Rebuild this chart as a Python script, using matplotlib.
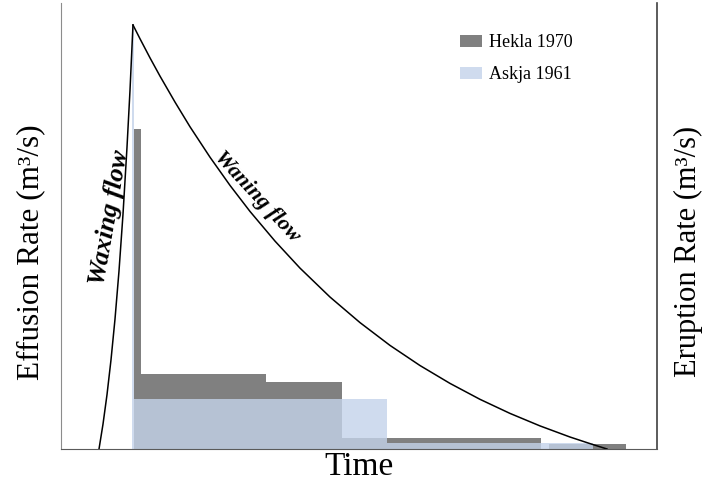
import matplotlib.pyplot as plt

# eruption rate steps (arbitrary units)
hekla_start = [12.25, 13.4, 34.4, 47.1, 81.9]
hekla_end = [13.4, 34.4, 47.1, 80.5, 94.8]
hekla_rate = [71.7, 16.8, 15.0, 2.5, 1.1]

askja_start = [11.9, 12.25, 54.7]
askja_end = [12.25, 54.7, 89.3]
askja_rate = [95.1, 11.2, 1.35]

# conceptual effusion curve (waxing + waning)
wax_t = [6.38, 7.05, 7.72, 8.39, 9.06, 9.73, 10.40, 11.07, 11.58, 12.08]
wax_q = [0, 5.58, 12.17, 19.96, 29.08, 39.84, 52.53, 67.51, 80.43, 95.07]
wane_t = [12.08, 13.26, 14.93, 16.61, 19.13, 21.64, 25.00, 28.36, 31.71, 35.91,
          40.10, 45.13, 50.17, 55.20, 60.23, 65.27, 70.30, 75.34, 80.37, 85.40,
          88.76, 91.61]
wane_q = [95.07, 91.97, 87.71, 83.61, 77.78, 72.26, 65.43, 59.10, 53.27, 46.61,
          40.56, 34.08, 28.34, 23.23, 18.72, 14.71, 11.14, 7.98, 5.18, 2.69,
          1.21, 0]

plt.rcParams['font.family'] = ['Liberation Serif', 'DejaVu Serif']

fig = plt.figure(figsize=(7.05, 4.88), dpi=100)
ax = fig.add_axes([0.0865, 0.0799, 0.8454, 0.914])

hw = [e - s for s, e in zip(hekla_start, hekla_end)]
aw = [e - s for s, e in zip(askja_start, askja_end)]
ax.bar(hekla_start, hekla_rate, width=hw, align='edge', color='#808080',
       linewidth=0, label='Hekla 1970', zorder=1)
ax.bar(askja_start, askja_rate, width=aw, align='edge', color='#C4D3EA',
       alpha=0.8, linewidth=0, label='Askja 1961', zorder=2)

ax.plot(wax_t, wax_q, color='black', lw=1.1, zorder=3)
ax.plot(wane_t, wane_q, color='black', lw=1.1, zorder=3)

ax.text(8.2, 51.8, 'Waxing flow', rotation=80, ha='center', va='center',
        fontsize=19, fontweight='bold', fontstyle='italic')
ax.text(32.9, 56.5, 'Waning flow', rotation=-47, ha='center', va='center',
        fontsize=16, fontweight='bold', fontstyle='italic')

ax.set_xlim(0, 100)
ax.set_ylim(0, 100)
ax.set_xticks([])
ax.set_yticks([])
ax.spines['top'].set_visible(False)
ax.spines['left'].set_color('#8c8c8c')
ax.spines['bottom'].set_color('#5a5a5a')
ax.spines['right'].set_color('#404040')
ax.spines['right'].set_linewidth(1.2)

ax.set_xlabel('Time', fontsize=24, labelpad=2)
ax.set_ylabel('Effusion Rate (m³/s)', fontsize=22.5)
ax.yaxis.set_label_coords(-0.027, 0.442)

ax2 = ax.twinx()
ax2.set_yticks([])
for s in ax2.spines.values():
    s.set_visible(False)
ax2.set_ylabel('Eruption Rate (m³/s)', fontsize=22)
ax2.yaxis.set_label_coords(1.029, 0.442)

ax.legend(loc='upper left', bbox_to_anchor=(0.643, 0.966), frameon=False,
          fontsize=13, handlelength=1.17, handleheight=0.6, handletextpad=0.4,
          labelspacing=0.83)

fig.savefig('out.png', dpi=100)
